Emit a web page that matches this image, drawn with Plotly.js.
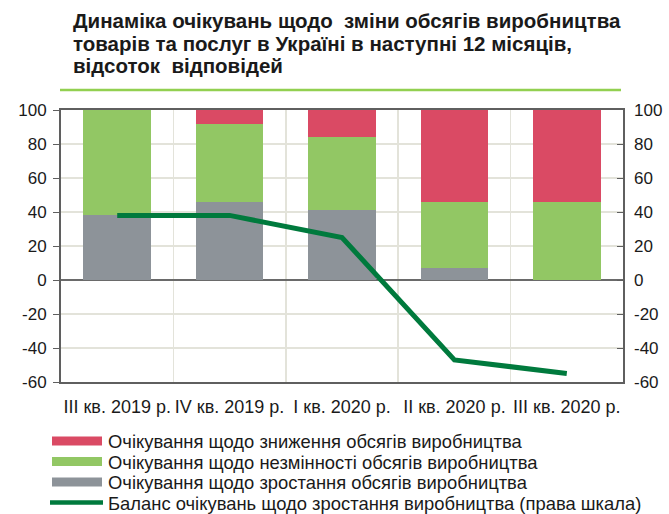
<!DOCTYPE html>
<html>
<head>
<meta charset="utf-8">
<script src="https://cdn.plot.ly/plotly-3.0.1.min.js"></script>
<style>html,body{margin:0;padding:0;background:#fff;}#chart{width:669px;height:514px;}</style>
</head>
<body>
<div id="chart"></div>
<script>
var categories = ["III кв. 2019 р.", "IV кв. 2019 р.", "I кв. 2020 р.", "II кв. 2020 р.", "III кв. 2020 р."];
var growth = [38, 46, 41, 7, 0];
var unchanged = [62, 46, 43, 39, 46];
var decline = [0, 8, 16, 54, 54];
var balance = [38, 38, 25, -47, -55];
var seriesNames = [
  "Очікування щодо зниження обсягів виробництва",
  "Очікування щодо незмінності обсягів виробництва",
  "Очікування щодо зростання обсягів виробництва",
  "Баланс очікувань щодо зростання виробництва (права шкала)"
];
var titleLines = [
  "Динаміка очікувань щодо  зміни обсягів виробництва",
  "товарів та послуг в Україні в наступні 12 місяців,",
  "відсоток  відповідей"
];
var tickVals = [-60, -40, -20, 0, 20, 40, 60, 80, 100];
var tickText = ["-60", "-40", "-20", "0", "20", "40", "60", "80", "100"];

var COLORS = {decline: "#da4a64", unchanged: "#92c764", growth: "#8d9399", balance: "#007a3d"};
var FONT = "Liberation Sans, Arial, sans-serif";
var W = 669, H = 514, ML = 61, MR = 46, MT = 110, MB = 132;
var PW = W - ML - MR, PH = H - MT - MB;
function px(x) { return (x - ML) / PW; }
function py(y) { return (H - MB - y) / PH; }

var traces = [
  {type: "bar", x: categories, y: growth, name: seriesNames[2],
   marker: {color: COLORS.growth}, width: 0.6, hoverinfo: "y"},
  {type: "bar", x: categories, y: unchanged, name: seriesNames[1],
   marker: {color: COLORS.unchanged}, width: 0.6, hoverinfo: "y"},
  {type: "bar", x: categories, y: decline, name: seriesNames[0],
   marker: {color: COLORS.decline}, width: 0.6, hoverinfo: "y"},
  {type: "scatter", mode: "lines", x: categories, y: balance, name: seriesNames[3],
   yaxis: "y2", line: {color: COLORS.balance, width: 5}, hoverinfo: "y"}
];

var annotations = [];
var shapes = [];
// title
var titleY = [20, 43, 66];
titleLines.forEach(function (t, i) {
  annotations.push({text: "<b>" + t + "</b>", xref: "paper", yref: "paper", x: px(71), y: py(titleY[i]),
    xanchor: "left", yanchor: "middle", showarrow: false,
    font: {family: FONT, size: 20.5, color: "#1a1a1a"}});
});
shapes.push({type: "line", xref: "paper", yref: "paper", x0: px(60), x1: px(621), y0: py(90), y1: py(90),
  line: {color: "#92d050", width: 2.5}});
// legend
var legColors = [COLORS.decline, COLORS.unchanged, COLORS.growth, COLORS.balance];
var legY = [441, 461.5, 482, 502.5];
seriesNames.forEach(function (n, i) {
  if (i < 3) {
    shapes.push({type: "rect", xref: "paper", yref: "paper", x0: px(52), x1: px(102),
      y0: py(legY[i] - 4.5), y1: py(legY[i] + 4.5), fillcolor: legColors[i], line: {width: 0}});
  } else {
    shapes.push({type: "line", xref: "paper", yref: "paper", x0: px(50), x1: px(103),
      y0: py(legY[i]), y1: py(legY[i]), line: {color: legColors[i], width: 4.5}});
  }
  annotations.push({text: n, xref: "paper", yref: "paper", x: px(106), y: py(legY[i] + 0.5),
    xanchor: "left", yanchor: "middle", showarrow: false,
    font: {family: FONT, size: 18.4, color: "#1a1a1a"}});
});

var layout = {
  width: W, height: H,
  margin: {l: ML, r: MR, t: MT, b: MB, autoexpand: false},
  paper_bgcolor: "#fff", plot_bgcolor: "#fff",
  font: {family: FONT, size: 17, color: "#1a1a1a"},
  barmode: "stack",
  showlegend: false,
  xaxis: {
    type: "category", tickson: "boundaries", showgrid: true, gridcolor: "#e3e3da", gridwidth: 1.5,
    showline: true, mirror: true, linecolor: "#5f5f5f", linewidth: 2,
    ticks: "", tickangle: 0, tickfont: {size: 18}, ticklabelstandoff: 7
  },
  yaxis: {
    range: [-60, 100], tickvals: tickVals, ticktext: tickText, showgrid: true, gridcolor: "#e3e3da", gridwidth: 1.5,
    zeroline: true, zerolinecolor: "#6a6a6a", zerolinewidth: 1.5,
    showline: true, linecolor: "#5f5f5f", linewidth: 2, mirror: true,
    ticks: "outside", ticklen: 6, tickcolor: "#5f5f5f", tickfont: {size: 17}, ticklabelstandoff: 3
  },
  yaxis2: {
    range: [-60, 100], tickvals: tickVals, ticktext: tickText, overlaying: "y", side: "right", showgrid: false,
    zeroline: false, showline: false, ticks: "inside", ticklen: 6, tickcolor: "#5f5f5f",
    tickfont: {size: 17}, ticklabelstandoff: 10
  },
  annotations: annotations,
  shapes: shapes
};

Plotly.newPlot("chart", traces, layout, {displayModeBar: false, staticPlot: true});
</script>
</body>
</html>
